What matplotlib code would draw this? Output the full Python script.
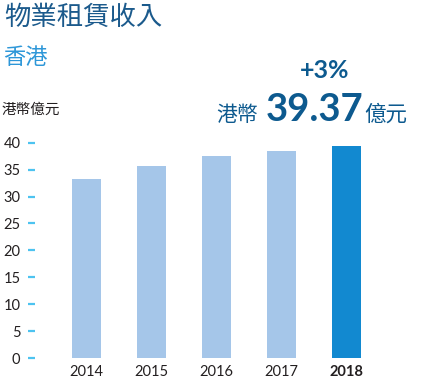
import matplotlib
matplotlib.use("Agg")
import matplotlib.pyplot as plt

years = ["2014", "2015", "2016", "2017", "2018"]
values = [33.2, 35.7, 37.5, 38.4, 39.37]
yticks = [0, 5, 10, 15, 20, 25, 30, 35, 40]

plt.rcParams['font.family'] = ['Lato', 'Noto Sans CJK TC', 'DejaVu Sans']

W, H = 432, 380
fig = plt.figure(figsize=(W / 100, H / 100), dpi=100)

def px(x, y):
    return x / W, 1 - y / H

ax = fig.add_axes([35 / W, 22 / H, (400 - 35) / W, 215.3 / H])
colors = ["#a5c6e9"] * 4 + ["#1289d0"]
ax.bar(range(len(years)), values, width=0.45, color=colors)
ax.set_xlim(-0.79, 4.82)
ax.set_ylim(0, 40)
for s in ax.spines.values():
    s.set_visible(False)
ax.set_yticks(yticks)
ax.set_yticklabels([str(t) for t in yticks], fontsize=10.5, color="#231f20")
ax.tick_params(axis='y', length=5, width=1.6, color="#4dc3f0", pad=5.5)
ax.set_xticks(range(len(years)))
ax.set_xticklabels(years, fontsize=10.5, color="#231f20")
ax.get_xticklabels()[-1].set_fontweight('bold')
ax.tick_params(axis='x', length=0, pad=5)

cjk = ['Noto Sans CJK TC', 'DejaVu Sans']
t = fig.text(*px(4, 17), "物業租賃收入", fontsize=19, color="#1b5a8c", family=cjk,
             va='center', ha='left')
fig.text(*px(3, 58), "香港", fontsize=16, color="#2e97d8", family=cjk,
         va='center', ha='left')
fig.text(*px(2, 110), "港幣億元", fontsize=10.5, color="#231f20", family=cjk,
         va='center', ha='left')
fig.text(*px(325, 71), "+3%", fontsize=18, color="#0d5a8f", fontweight='bold',
         va='center', ha='center')
fig.text(*px(216, 115), "港幣", fontsize=15, color="#0d5a8f", family=cjk,
         fontweight='medium', va='center', ha='left')
fig.text(*px(315, 110), "39.37", fontsize=27.5, color="#0d5a8f", fontweight='bold',
         va='center', ha='center')
fig.text(*px(364, 115), "億元", fontsize=15.5, color="#0d5a8f", family=cjk,
         fontweight='medium', va='center', ha='left')

fig.savefig("out.png", dpi=100)
